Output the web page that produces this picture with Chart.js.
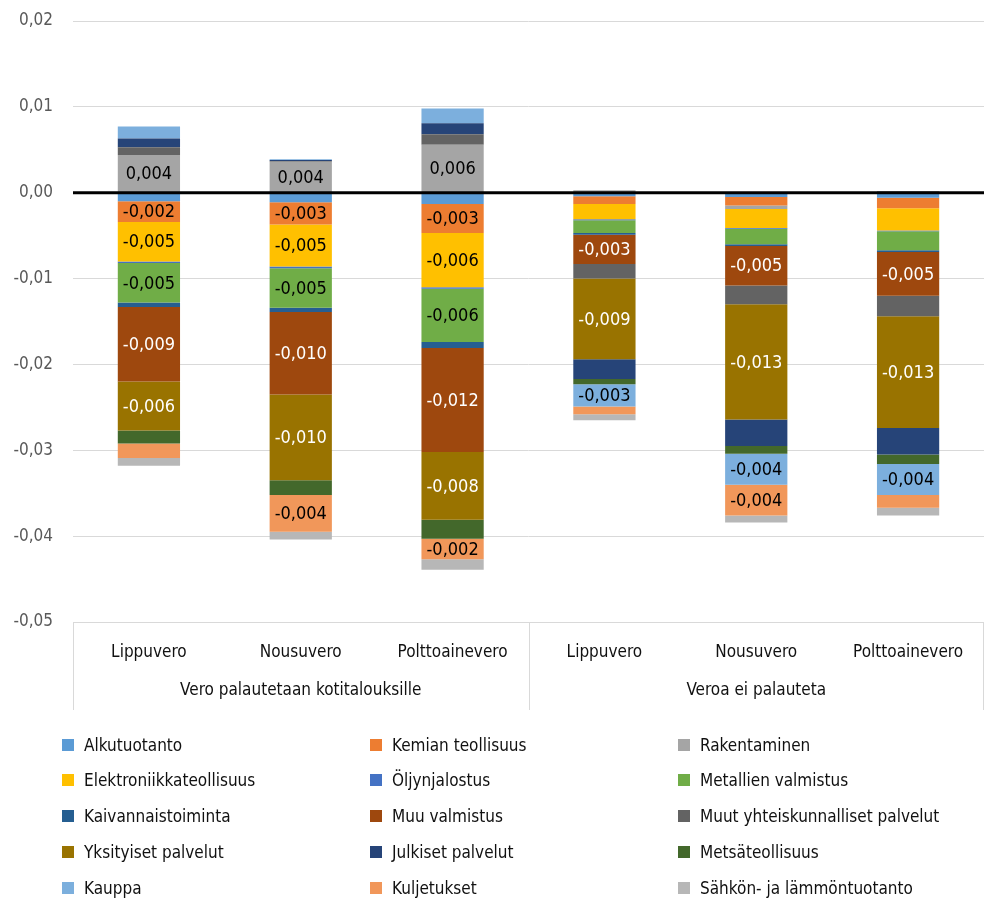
<!DOCTYPE html>
<html>
<head>
<meta charset="utf-8">
<script src="https://cdn.jsdelivr.net/npm/chart.js@4.4.1/dist/chart.umd.min.js"></script>
<style>
  html, body { margin: 0; padding: 0; background: #fff; }
  #wrap { position: relative; width: 984px; height: 902px; overflow: hidden; }
  #chartBox { position: absolute; left: 0; top: 0; width: 984px; height: 720px; }
  #legend { position: absolute; left: 0; top: 0; width: 984px; height: 902px; pointer-events: none; }
  .item { position: absolute; display: flex; align-items: center; height: 20px;
          font-size: 17px; color: #111; white-space: nowrap; }
  .sw { width: 12px; height: 12px; margin-right: 10px; flex: none; }
</style>
</head>
<body>
<div id="wrap">
  <div id="chartBox"><canvas id="c"></canvas></div>
  <div id="legend"></div>
</div>
<script>
// Tax scenarios (first level) and how the revenue is used (second level)
const categories = ['Lippuvero', 'Nousuvero', 'Polttoainevero', 'Lippuvero', 'Nousuvero', 'Polttoainevero'];
const groupLabels = ['', 'Vero palautetaan kotitalouksille', '', '', 'Veroa ei palauteta', ''];

// y-axis range
const yMin = -0.05, yMax = 0.02, yStep = 0.01;

// Contribution of each industry, one value per scenario
const alkutuotanto      = [-0.0010, -0.0011, -0.0013, -0.0004, -0.0005, -0.0006];
const kemianTeollisuus  = [-0.0024, -0.0026, -0.0034, -0.0009, -0.0010, -0.0012];
const rakentaminen      = [ 0.0044,  0.0036,  0.0056,  0.0003, -0.0004,  0.0002];
const elektroniikka     = [-0.0046, -0.0049, -0.0063, -0.0018, -0.0022, -0.0026];
const oljynjalostus     = [-0.0002, -0.0002, -0.0002, -0.0001, -0.0001, -0.0001];
const metallienValm     = [-0.0046, -0.0046, -0.0062, -0.0015, -0.0018, -0.0022];
const kaivannais        = [-0.0005, -0.0005, -0.0007, -0.0002, -0.0002, -0.0002];
const muuValmistus      = [-0.0087, -0.0096, -0.0121, -0.0034, -0.0046, -0.0051];
const muutYhteisk       = [ 0.0009,  0.0001,  0.0012, -0.0017, -0.0022, -0.0024];
const yksityisetPalv    = [-0.0057, -0.0100, -0.0079, -0.0094, -0.0134, -0.0130];
const julkisetPalv      = [ 0.0010,  0.0001,  0.0013, -0.0023, -0.0031, -0.0031];
const metsateollisuus   = [-0.0015, -0.0017, -0.0022, -0.0006, -0.0009, -0.0011];
const kauppa            = [ 0.0014,  0.0001,  0.0017, -0.0026, -0.0036, -0.0036];
const kuljetukset       = [-0.0017, -0.0043, -0.0024, -0.0009, -0.0036, -0.0015];
const sahkoLampo        = [-0.0009, -0.0009, -0.0012, -0.0007, -0.0008, -0.0009];

const seriesNames = [
  'Alkutuotanto', 'Kemian teollisuus', 'Rakentaminen',
  'Elektroniikkateollisuus', 'Öljynjalostus', 'Metallien valmistus',
  'Kaivannaistoiminta', 'Muu valmistus', 'Muut yhteiskunnalliset palvelut',
  'Yksityiset palvelut', 'Julkiset palvelut', 'Metsäteollisuus',
  'Kauppa', 'Kuljetukset', 'Sähkön- ja lämmöntuotanto'
];
const seriesValues = [
  alkutuotanto, kemianTeollisuus, rakentaminen,
  elektroniikka, oljynjalostus, metallienValm,
  kaivannais, muuValmistus, muutYhteisk,
  yksityisetPalv, julkisetPalv, metsateollisuus,
  kauppa, kuljetukset, sahkoLampo
];
const seriesColors = [
  '#5B9BD5', '#ED7D31', '#A5A5A5',
  '#FFC000', '#4472C4', '#70AD47',
  '#255E91', '#9E480E', '#636363',
  '#997300', '#264478', '#43682B',
  '#7CAFDD', '#F1975A', '#B7B7B7'
];

// Value labels: which series carry them, which use white text, smallest labelled size
const labelledSeries = ['Kemian teollisuus', 'Rakentaminen', 'Elektroniikkateollisuus',
  'Metallien valmistus', 'Muu valmistus', 'Yksityiset palvelut', 'Kauppa', 'Kuljetukset'];
const whiteLabelSeries = ['Muu valmistus', 'Yksityiset palvelut'];
const labelThreshold = 0.0023;
const unlabelledPoints = [['Elektroniikkateollisuus', 5]];

const FONT = '"Liberation Sans Narrow", "DejaVu Sans Condensed", "Roboto Condensed", "Liberation Sans", sans-serif';
document.getElementById('legend').style.fontFamily = FONT;

const fmt = (v, d) => Number(v).toFixed(d).replace('.', ',');

const datasets = seriesNames.map((name, i) => ({
  label: name,
  data: seriesValues[i],
  backgroundColor: seriesColors[i],
  borderWidth: 0,
  categoryPercentage: 1.0,
  barPercentage: 0.41,
  xAxisID: 'x',
  stack: 'all'
}));

// Thick zero line drawn over the bars
const zeroLine = {
  id: 'zeroLine',
  afterDatasetsDraw(chart) {
    const { ctx, chartArea, scales } = chart;
    const y = scales.y.getPixelForValue(0);
    ctx.save();
    ctx.strokeStyle = '#000';
    ctx.lineWidth = 3;
    ctx.beginPath();
    ctx.moveTo(chartArea.left, y);
    ctx.lineTo(chartArea.right, y);
    ctx.stroke();
    ctx.restore();
  }
};

// Value labels centred in the segments
const valueLabels = {
  id: 'valueLabels',
  afterDatasetsDraw(chart) {
    const ctx = chart.ctx;
    ctx.save();
    ctx.font = '18px ' + FONT;
    ctx.textAlign = 'center';
    ctx.textBaseline = 'middle';
    chart.data.datasets.forEach((ds, di) => {
      if (!labelledSeries.includes(ds.label)) return;
      const meta = chart.getDatasetMeta(di);
      meta.data.forEach((el, i) => {
        const v = ds.data[i];
        if (Math.abs(v) < labelThreshold) return;
        if (unlabelledPoints.some(p => p[0] === ds.label && p[1] === i)) return;
        ctx.fillStyle = whiteLabelSeries.includes(ds.label) ? '#fff' : '#000';
        ctx.fillText(fmt(v, 3), el.x, (el.y + el.base) / 2 + 1);
      });
    });
    ctx.restore();
  }
};

// Dividers of the two-level category axis
const groupDividers = {
  id: 'groupDividers',
  afterDraw(chart) {
    const { ctx, chartArea, scales } = chart;
    const xs = scales.x;
    const mid = (xs.getPixelForValue(2) + xs.getPixelForValue(3)) / 2;
    const bottom = scales.x2.bottom;
    ctx.save();
    ctx.strokeStyle = '#D9D9D9';
    ctx.lineWidth = 1;
    [chartArea.left + 0.5, Math.round(mid) + 0.5, chartArea.right - 0.5].forEach(x => {
      ctx.beginPath();
      ctx.moveTo(x, chartArea.bottom);
      ctx.lineTo(x, bottom);
      ctx.stroke();
    });
    ctx.restore();
  }
};

new Chart(document.getElementById('c'), {
  type: 'bar',
  data: { labels: categories, datasets },
  plugins: [zeroLine, valueLabels, groupDividers],
  options: {
    responsive: true,
    maintainAspectRatio: false,
    animation: false,
    layout: { padding: { top: 21, right: 0, bottom: 10, left: 0 } },
    plugins: { legend: { display: false }, tooltip: { enabled: false } },
    scales: {
      y: {
        stacked: true,
        min: yMin, max: yMax,
        afterFit(scale) {
          scale.width = 73;
          // keep the outer tick labels from pushing the plot area inwards
          scale.paddingTop = 10;
          scale.paddingBottom = 10;
        },
        ticks: {
          stepSize: yStep,
          padding: 20,
          color: '#595959',
          font: { family: FONT, size: 17 },
          callback: v => fmt(v, 2)
        },
        grid: { color: '#D9D9D9', lineWidth: 1, drawTicks: false },
        border: { display: false }
      },
      x: {
        stacked: true,
        position: 'bottom',
        afterFit(scale) { scale.height = 48; },
        ticks: { color: '#111', font: { family: FONT, size: 17 }, padding: 20, maxRotation: 0, autoSkip: false },
        grid: { display: false, drawTicks: false },
        border: { display: true, color: '#D9D9D9' }
      },
      x2: {
        type: 'category',
        labels: groupLabels,
        position: 'bottom',
        afterFit(scale) { scale.height = 40; },
        ticks: { color: '#111', font: { family: FONT, size: 17 }, padding: 10, maxRotation: 0, autoSkip: false },
        grid: { display: false, drawTicks: false },
        border: { display: false }
      }
    }
  }
});

// Legend in three columns, filled row by row
const legendCols = [62, 370, 678];
const legendRows = [745, 780, 816, 852, 888];
const legendEl = document.getElementById('legend');
seriesNames.forEach((name, i) => {
  const item = document.createElement('div');
  item.className = 'item';
  item.style.left = legendCols[i % 3] + 'px';
  item.style.top = (legendRows[Math.floor(i / 3)] - 10) + 'px';
  const sw = document.createElement('span');
  sw.className = 'sw';
  sw.style.background = seriesColors[i];
  const tx = document.createElement('span');
  tx.textContent = name;
  item.appendChild(sw);
  item.appendChild(tx);
  legendEl.appendChild(item);
});
</script>
</body>
</html>
